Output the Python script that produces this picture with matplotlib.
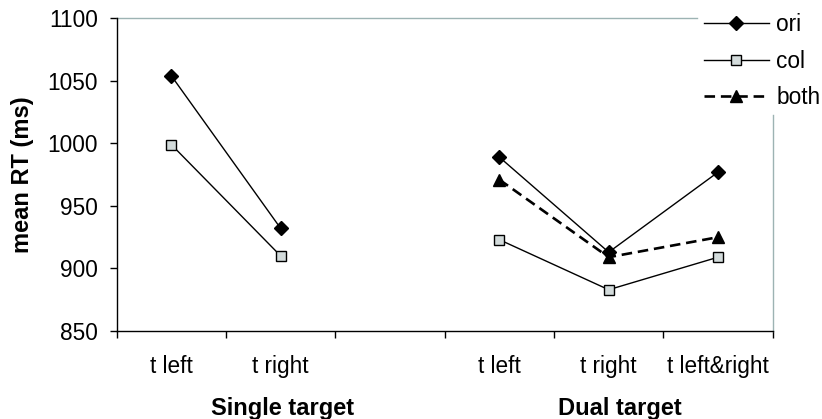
import numpy as np
import matplotlib
matplotlib.use("Agg")
import matplotlib.pyplot as plt
import matplotlib.transforms as mtransforms
from matplotlib.lines import Line2D

# ---- data ----
categories = ["t left", "t right", "", "t left", "t right", "t left&right"]
groups = ["Single target", "Dual target"]
ori = [1054, 932, np.nan, 989, 913, 977]
col = [999, 910, np.nan, 923, 883, 909]
both = [np.nan, np.nan, np.nan, 971, 909, 925]
series_names = ["ori", "col", "both"]
yticks = [850, 900, 950, 1000, 1050, 1100]

plt.rcParams['font.family'] = ['Liberation Sans', 'DejaVu Sans']
FS = 16.3
FSB = 17

W, H = 822, 419
fig = plt.figure(figsize=(W / 100, H / 100), dpi=100)
L, R, T, B = 116.7, 772.7, 18.3, 331.0
ax = fig.add_axes([L / W, 1 - B / H, (R - L) / W, (B - T) / H])

x = np.arange(len(categories))
ax.plot(x, ori, color='black', lw=1.0, marker='D', ms=7.5,
        mfc='black', mec='black', label=series_names[0], zorder=4)
ax.plot(x, col, color='black', lw=1.0, marker='s', ms=7,
        mfc='#d3dbdb', mec='black', mew=1.0, label=series_names[1], zorder=3)
ax.plot(x, both, color='black', lw=1.9, ls=(0, (4, 2.2)), marker='^', ms=8,
        mfc='black', mec='black', label=series_names[2], zorder=5)

ax.set_xlim(-0.5, len(categories) - 0.5)
ax.set_ylim(yticks[0], yticks[-1])
ax.set_yticks(yticks)
ax.set_yticklabels([str(v) for v in yticks], fontsize=FS)

ax.set_xticks(np.arange(-0.5, len(categories)))
ax.set_xticklabels([])
ax.tick_params(axis='x', which='major', length=5, width=1, direction='out', color='black')
ax.set_xticks(x, minor=True)
ax.set_xticklabels(categories, minor=True, fontsize=FS)
ax.tick_params(axis='x', which='minor', length=0, pad=17)
ax.tick_params(axis='y', length=5, width=1, direction='out', pad=8.5)

for s in ['top', 'right']:
    ax.spines[s].set_visible(False)
for s in ['left', 'bottom']:
    ax.spines[s].set_linewidth(1.0)
    ax.spines[s].set_color('black')

# plot-area border partially hidden by legend
border = '#9db3b3'
ax.add_line(Line2D([0, (696.7 - L) / (R - L)], [1, 1], transform=ax.transAxes,
                   color=border, lw=1.0, clip_on=False))
ax.add_line(Line2D([1, 1], [0, (B - 115) / (B - T)], transform=ax.transAxes,
                   color=border, lw=1.0, clip_on=False))

# group labels
blend = mtransforms.blended_transform_factory(ax.transData, fig.transFigure)
ax.text(1.02, 1 - 408 / H, groups[0], transform=blend, ha='center', va='center',
        fontsize=FSB, fontweight='bold')
ax.text(4.1, 1 - 408 / H, groups[1], transform=blend, ha='center', va='center',
        fontsize=FSB, fontweight='bold')

fig.text(23 / W, 1 - 175 / H, "mean RT (ms)", rotation=90, ha='center', va='center',
         fontsize=FSB, fontweight='bold')

fig.legend(loc='upper left', bbox_to_anchor=(704 / W, 1 - 13 / H), frameon=False,
           fontsize=FS, handlelength=2.85, handletextpad=0.35, labelspacing=0.6,
           borderpad=0, borderaxespad=0)

fig.savefig("out.png", dpi=100)
